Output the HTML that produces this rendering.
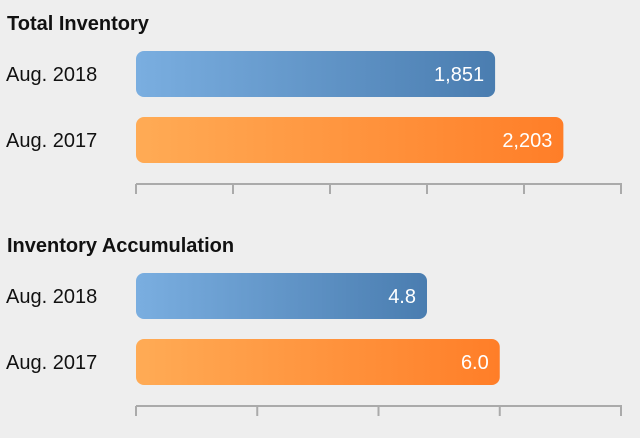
<!DOCTYPE html>
<html><head><meta charset="utf-8"><style>
body{margin:0;background:#eeeeee;width:640px;height:433px;overflow:hidden;font-family:"Liberation Sans",Arial,sans-serif}
</style></head><body>
<svg width="640" height="433">
<defs>
<linearGradient id="gb" x1="0" x2="1"><stop offset="0" stop-color="#7aaee0"/><stop offset="1" stop-color="#4a7db0"/></linearGradient>
<linearGradient id="go" x1="0" x2="1"><stop offset="0" stop-color="#ffab55"/><stop offset="1" stop-color="#ff7e28"/></linearGradient>
</defs>
<g id="root"></g>
</svg>
<script>
const categories = ["Aug. 2018", "Aug. 2017"];
const inventoryValues = [1851, 2203];
const inventoryLabels = ["1,851", "2,203"];
const accumulationValues = [4.8, 6.0];
const accumulationLabels = ["4.8", "6.0"];
const inventoryTicks = [0, 500, 1000, 1500, 2000, 2500];
const accumulationTicks = [0, 2, 4, 6, 8];

const NS = "http://www.w3.org/2000/svg";
const root = document.getElementById('root');
function mk(tag, attrs, parent){const e=document.createElementNS(NS,tag);for(const k in attrs)e.setAttribute(k,attrs[k]);(parent||root).appendChild(e);return e;}
const x0 = 136, x1 = 621;
function panel(title, top, values, labels, ticks, name){
  const g = mk('g', {});
  
  
  const max = ticks[ticks.length-1];
  const sx = v => x0 + (v / max) * (x1 - x0);
  const t = mk('text', {x:7, y:top+7, 'font-size':20, 'font-weight':'bold', fill:'#111'}, g);
  t.textContent = title;
  
  
  values.forEach((v, i) => {
    const y = top + 28 + i * 66;
    const lab = mk('text', {x:6, y:y+30, 'font-size':20, fill:'#111'}, g);
    lab.textContent = categories[i];
    
    
    const r = mk('rect', {x:x0, y:y, width:sx(v)-x0, height:46, rx:8, fill: i===0?'url(#gb)':'url(#go)'}, g);
    
    
    const vl = mk('text', {x:sx(v)-11, y:y+30, 'font-size':20, fill:'#fff', 'text-anchor':'end'}, g);
    vl.textContent = labels[i];
    
    
  });
  const ay = top + 161;
  const ax = mk('line', {x1:x0, x2:x1+1, y1:ay, y2:ay, stroke:'#aaa', 'stroke-width':2}, g);
  
  
  ticks.forEach(tv => {
    const tk = mk('line', {x1:sx(tv), x2:sx(tv), y1:ay, y2:ay+10, stroke:'#aaa', 'stroke-width':2}, g);
    
    
  });
}
panel("Total Inventory", 23, inventoryValues, inventoryLabels, inventoryTicks, 'total-inventory');
panel("Inventory Accumulation", 245, accumulationValues, accumulationLabels, accumulationTicks, 'inventory-accumulation');
</script>
</body></html>
